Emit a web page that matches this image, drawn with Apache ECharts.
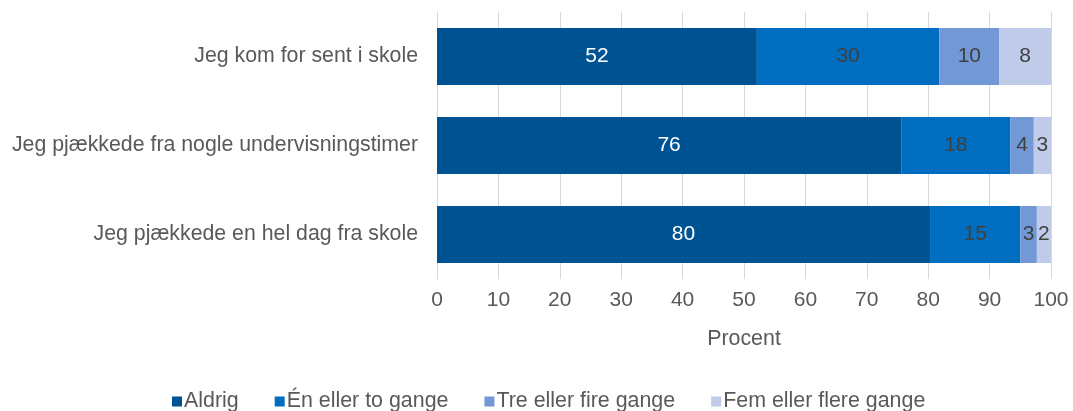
<!DOCTYPE html>
<html>
<head>
<meta charset="utf-8">
<script src="https://cdn.jsdelivr.net/npm/echarts@6/dist/echarts.min.js"></script>
<style>html,body{margin:0;padding:0;background:#fff}#c{width:1073px;height:411px}</style>
</head>
<body>
<div id="c"></div>
<script>
const categories = ['Jeg kom for sent i skole', 'Jeg pjækkede fra nogle undervisningstimer', 'Jeg pjækkede en hel dag fra skole'];
const seriesNames = ['Aldrig', 'Én eller to gange', 'Tre eller fire gange', 'Fem eller flere gange'];
const aldrig = [52.1, 75.6, 80.3];
const enEllerTo = [29.7, 17.8, 14.7];
const treEllerFire = [9.8, 3.8, 2.7];
const femEllerFlere = [8.4, 2.8, 2.3];
const xTicks = [0, 10, 20, 30, 40, 50, 60, 70, 80, 90, 100];

const colors = ['#005393', '#006EC0', '#7298D5', '#BFCBE9'];
const labelColors = ['#ffffff', '#404040', '#404040', '#404040'];
const values = [aldrig, enEllerTo, treEllerFire, femEllerFlere];
const FONT = '"Liberation Sans", Arial, sans-serif';

const chart = echarts.init(document.getElementById('c'), null, {renderer: 'canvas'});
chart.setOption({
  animation: false,
  textStyle: {fontFamily: FONT},
  grid: {left: 437, right: 22, top: 12, bottom: 132, containLabel: false},
  legend: {
    data: seriesNames,
    left: 172, top: 391, padding: 0,
    itemWidth: 10, itemHeight: 10, itemGap: 36,
    icon: 'rect',
    textStyle: {fontSize: 21.4, color: '#595959', fontFamily: FONT, padding: [0, 0, 0, -3]}
  },
  xAxis: {
    type: 'value', min: 0, max: 100, interval: 10,
    name: 'Procent', nameLocation: 'middle', nameGap: 50,
    nameTextStyle: {fontSize: 21.4, color: '#595959', fontFamily: FONT},
    axisLine: {show: false}, axisTick: {show: false},
    axisLabel: {fontSize: 21, color: '#595959', margin: 11, fontFamily: FONT,
      formatter: v => xTicks.includes(v) ? String(v) : ''},
    splitLine: {show: true, lineStyle: {color: '#D9D9D9', width: 1}}
  },
  yAxis: {
    type: 'category', data: categories, inverse: true,
    axisLine: {show: true, lineStyle: {color: '#D9D9D9'}},
    axisTick: {show: false},
    axisLabel: {fontSize: 21.3, color: '#595959', margin: 19, fontFamily: FONT}
  },
  series: seriesNames.map((n, i) => ({
    name: n, type: 'bar', stack: 'total', barWidth: '64%',
    data: values[i],
    itemStyle: {color: colors[i]},
    label: {show: true, position: 'inside', fontSize: 21, color: labelColors[i], fontFamily: FONT,
      formatter: p => String(Math.round(p.value))}
  }))
});
</script>
</body>
</html>
